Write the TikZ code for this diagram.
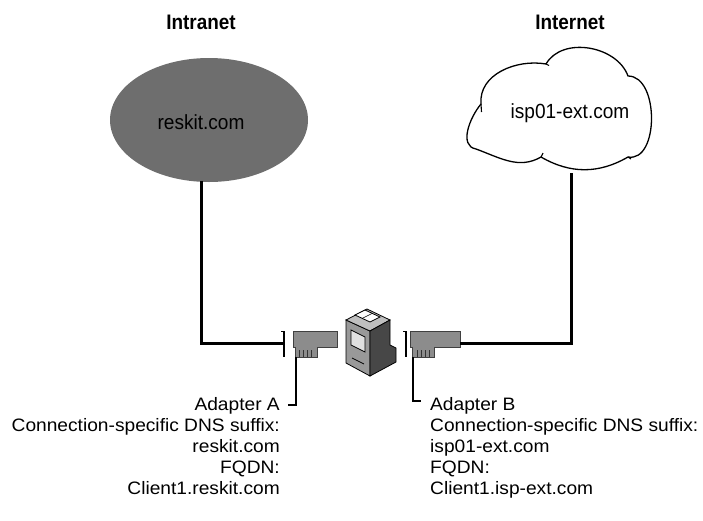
\documentclass[tikz,border=0pt]{standalone}
\usepackage{fontspec}
\setmainfont{Liberation Sans}[FakeStretch=1.065]
\newfontfamily\headfont{Liberation Sans}[FakeStretch=0.9]
\newfontfamily\netfont{Liberation Sans}[FakeStretch=0.93]
\usetikzlibrary{shapes.geometric}
\begin{document}
\begin{tikzpicture}[x=1pt,y=-1pt,
  heading/.style={inner sep=0pt,anchor=base,font=\headfont\bfseries\fontsize{21}{21}\selectfont},
  netname/.style={inner sep=0pt,font=\netfont\fontsize{20.5}{20.5}\selectfont},
  infotext/.style={inner sep=0pt,font=\fontsize{18}{21}\selectfont},
  link/.style={line width=3pt},
  leader/.style={line width=1.4pt},
  card/.style={fill=black!45,draw=black!75,line width=0.6pt},
  bracket/.style={line width=2.6pt}]
\path[use as bounding box] (0,0) rectangle (703,520);

% column headings
\node[heading] (hIntra) at (201,29) {Intranet};
\node[heading] (hInter) at (570,29) {Internet};

% intranet: shaded ellipse
\node[ellipse,fill=black!57,minimum width=198pt,minimum height=124pt,inner sep=0pt] (intra) at (209,120) {};
\node[netname] (reskit) at (201,122) {reskit.com};

% internet: cloud outline
\coordinate (cA) at (481,104);
\coordinate (cB) at (546,64);
\coordinate (cC) at (628,76);
\coordinate (cD) at (628,157);
\coordinate (cE) at (541,157);
\coordinate (cF) at (476,149);
\draw[line width=1.3pt,fill=white]
  (cA) to[out=95,in=170] (cB)
       to[out=60,in=110] (cC)
       to[out=0,in=-10] (cD)
       to[out=-150,in=-30] (cE)
       to[out=-150,in=-20] (cF)
       to[out=170,in=230] (cA);
\draw[line width=1.1pt] (cB) -- ++(3,1.5);
\draw[line width=1.1pt] (cA) -- ++(0.5,8);
\draw[line width=1.1pt] (cE) -- ++(2,-4);
\draw[line width=1.1pt] (cD) -- ++(3,2);
\node[netname] (isp) at (570,113) {isp01-ext.com};

% adapter A
\draw[bracket] (284,331) -- (284,357);
\draw[line width=1pt] (281,331.5) -- (284,331.5);
\draw[card] (293,331) -- (337,331) -- (337,347) -- (317,347) -- (317,357)
  -- (295,357) -- (295,347) -- (293,347) -- cycle;
\foreach \t in {299,303,307,311} \draw[black!80,line width=0.5pt] (\t,350) -- (\t,357);
\coordinate (slotA) at (284,343);
\coordinate (tabA) at (296,357);

% adapter B
\draw[bracket] (406,331) -- (406,357);
\draw[line width=1pt] (403,331.5) -- (406,331.5);
\draw[card] (410,331) -- (460,331) -- (460,347) -- (434,347) -- (434,357)
  -- (412,357) -- (412,347) -- (410,347) -- cycle;
\foreach \t in {417,421,425,429} \draw[black!80,line width=0.5pt] (\t,350) -- (\t,357);
\coordinate (slotB) at (460,343);
\coordinate (tabB) at (413,357);

% computer
\draw[line width=0.8pt,fill=black!40] (346,320) -- (370,331) -- (370,376) -- (346,363) -- cycle;
\draw[line width=0.8pt,fill=black!25] (346,320) -- (367,309) -- (390,320) -- (370,331) -- cycle;
\draw[line width=0.8pt,fill=white] (355,315) -- (365,310) -- (380,317) -- (370,322) -- cycle;
\draw[line width=0.6pt] (362,318.5) -- (372,313.5);
\draw[line width=0.8pt,fill=black!72] (370,331) -- (390,320) -- (390,345) -- (396,348)
  -- (396,362) -- (370,376) -- cycle;
\draw[line width=0.8pt,fill=black!12] (351,330) -- (365,337) -- (365,352) -- (351,345) -- cycle;
\draw[line width=0.8pt] (352,358) -- (364,364);
\node[inner sep=0pt,minimum size=1pt] (pc) at (370,343) {};

% network links
\coordinate (iaDrop) at (201,181);
\coordinate (iaCorner) at (201,343);
\draw[link] (iaDrop) -- (iaCorner) -- (slotA);
\coordinate (cloudDrop) at (571,173);
\coordinate (ibCorner) at (571,343);
\draw[link] (cloudDrop) -- (ibCorner) -- (slotB);

% adapter A description
\coordinate (aBend) at (296,405);
\draw[leader] (tabA) -- (aBend) -- ++(-8,0);
\node[infotext,anchor=north east,align=right] (infoA) at (280,397)
  {Adapter A\\Connection-specific DNS suffix:\\reskit.com\\FQDN:\\Client1.reskit.com};

% adapter B description
\coordinate (bBend) at (413,401);
\draw[leader] (tabB) -- (bBend) -- ++(8,0);
\node[infotext,anchor=north west,align=left] (infoB) at (430,397)
  {Adapter B\\Connection-specific DNS suffix:\\isp01-ext.com\\FQDN:\\Client1.isp-ext.com};
\end{tikzpicture}
\end{document}
